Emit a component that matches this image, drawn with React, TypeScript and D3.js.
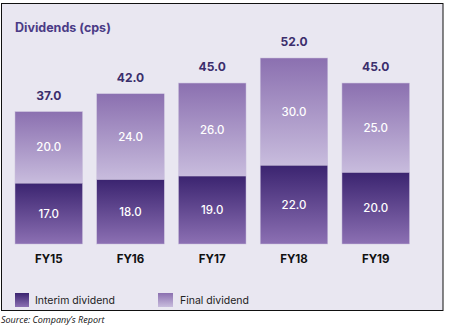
import React from "react";
import * as d3 from "d3";

const categories = ["FY15", "FY16", "FY17", "FY18", "FY19"];
const interim = [17.0, 18.0, 19.0, 22.0, 20.0];
const finalDiv = [20.0, 24.0, 26.0, 30.0, 25.0];
const totals = [37.0, 42.0, 45.0, 52.0, 45.0];
const seriesNames = ["Interim dividend", "Final dividend"];

export default function App() {
  const W = 450, H = 328;
  const x = d3.scaleBand<string>().domain(categories).range([15, 409.5]).paddingInner(0.174).paddingOuter(0);
  const y = d3.scaleLinear().domain([0, 52]).range([244, 58]);
  const fmt = d3.format(".1f");
  const bw = x.bandwidth();
  return (
    <svg width={W} height={H} style={{ position: "absolute", left: 0, top: 0 }} fontFamily="'Open Sans', sans-serif">
      <defs>
        <linearGradient id="gInt" x1="0" y1="0" x2="0" y2="1">
          <stop offset="0" stopColor="#3b2470" />
          <stop offset="1" stopColor="#8c70b3" />
        </linearGradient>
        <linearGradient id="gFin" x1="0" y1="0" x2="0" y2="1">
          <stop offset="0" stopColor="#8b70b0" />
          <stop offset="1" stopColor="#c8bcdd" />
        </linearGradient>
      </defs>
      <rect x={1.5} y={3.5} width={441.5} height={307} fill="#e9e7f1" stroke="#111" strokeWidth={1} />
      <text x={15} y={32} fontSize={12.5} fontWeight="bold" fill="#4b3b86" fontFamily="Inter, 'DejaVu Sans', sans-serif">Dividends (cps)</text>
      {categories.map((c, i) => {
        const x0 = x(c)!;
        const yi = y(interim[i]);
        const yt = y(interim[i] + finalDiv[i]);
        return (
          <g key={c}>
            <rect x={x0} y={yt} width={bw} height={yi - yt} fill="url(#gFin)" stroke="#c9bfdc" strokeWidth={0.5} />
            <rect x={x0} y={yi} width={bw} height={y(0) - yi} fill="url(#gInt)" stroke="#c9bfdc" strokeWidth={0.5} />
            <text x={x0 + bw / 2} y={(yt + yi) / 2 + 4} textAnchor="middle" fill="#fff" fontSize={11.5} fontFamily="Inter, sans-serif" fontWeight={500}>{fmt(finalDiv[i])}</text>
            <text x={x0 + bw / 2} y={(yi + y(0)) / 2 + 4} textAnchor="middle" fill="#fff" fontSize={11.5} fontFamily="Inter, sans-serif" fontWeight={500}>{fmt(interim[i])}</text>
            <text x={x0 + bw / 2} y={yt - 12} textAnchor="middle" fill="#3b2e6c" fontSize={12} fontFamily="Inter, sans-serif" fontWeight="bold">{fmt(totals[i])}</text>
            <text x={x0 + bw / 2} y={263} textAnchor="middle" fill="#111" fontSize={11.5} fontFamily="Inter, sans-serif" fontWeight="bold">{c}</text>
          </g>
        );
      })}
      <rect x={15} y={293} width={14} height={14} fill="url(#gInt)" />
      <text x={35} y={304} fontSize={10.5} fill="#222" fontFamily="Inter, sans-serif">{seriesNames[0]}</text>
      <rect x={158} y={293} width={15} height={14} fill="url(#gFin)" />
      <text x={180} y={304} fontSize={10.5} fill="#222" fontFamily="Inter, sans-serif">{seriesNames[1]}</text>
      <text x={1} y={323} fontSize={9} fontStyle="italic" fill="#111" fontFamily="'Open Sans', sans-serif">Source: Company’s Report</text>
    </svg>
  );
}
